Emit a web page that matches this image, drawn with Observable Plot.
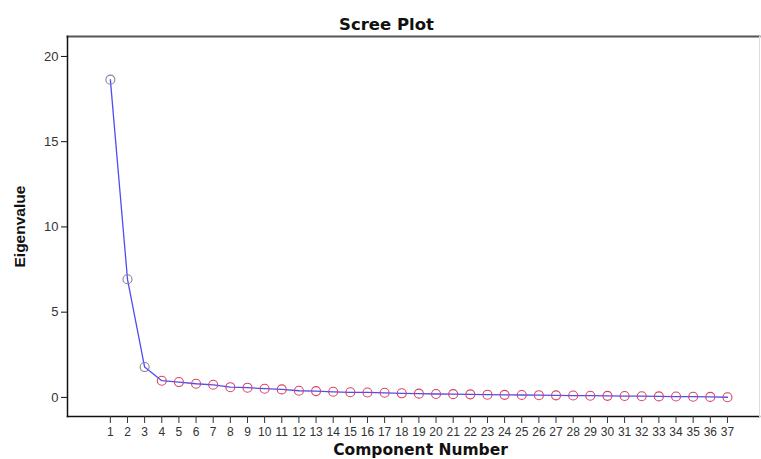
<!DOCTYPE html>
<html><head><meta charset="utf-8">
<script src="https://cdn.jsdelivr.net/npm/d3@7"></script>
<script src="https://cdn.jsdelivr.net/npm/@observablehq/plot@0.6"></script>
<style>body{margin:0;background:#fff;font-family:"Liberation Sans",Arial,sans-serif}</style>
</head><body><div id="chart"></div>
<script>
const components = [1,2,3,4,5,6,7,8,9,10,11,12,13,14,15,16,17,18,19,20,21,22,23,24,25,26,27,28,29,30,31,32,33,34,35,36,37];
const eigenvalues = [18.64,6.93,1.78,0.98,0.90,0.80,0.74,0.60,0.57,0.51,0.47,0.39,0.37,0.33,0.30,0.29,0.27,0.24,0.22,0.20,0.19,0.18,0.16,0.15,0.14,0.13,0.12,0.11,0.10,0.09,0.08,0.07,0.06,0.05,0.04,0.03,0.01];
const yTicks = [0,5,10,15,20];
const title = "Scree Plot";
const xLabel = "Component Number";
const yLabel = "Eigenvalue";

const data = components.map((c,i)=>({component:c, eigenvalue:eigenvalues[i]}));

const W = 761, H = 459;
const chart = Plot.plot({
  width: W, height: H,
  marginLeft: 67, marginRight: 2, marginTop: 36, marginBottom: 43,
  style: {fontFamily: '"Liberation Sans", Arial, sans-serif', background: "#fff"},
  x: {domain: [-1.5, 38.87], axis: null},
  y: {domain: [-1.12, 21.17], axis: null},
  marks: [
    Plot.frame({anchor: "top", stroke: "#555", strokeWidth: 2}),
    Plot.frame({anchor: "left", stroke: "#111", strokeWidth: 1.5}),
    Plot.frame({anchor: "bottom", stroke: "#111", strokeWidth: 1.5}),
    Plot.frame({anchor: "right", stroke: "#ddd", strokeWidth: 1}),
    Plot.axisY({ticks: yTicks, tickSize: 6, tickPadding: 3, fontSize: 13, color: "#333", label: null, stroke: "#111"}),
    Plot.axisX({ticks: components, tickSize: 7, tickPadding: 4, fontSize: 12, color: "#333", label: null, tickFormat: d => String(d)}),
    Plot.line(data, {x: "component", y: "eigenvalue", stroke: "#4d4df5", strokeWidth: 1.3}),
    Plot.dot(data, {x: "component", y: "eigenvalue", r: 4.5, fill: "none",
      stroke: d => d.component <= 3 ? "#8a7f9a" : "#d9435e", strokeWidth: 1.1}),
    Plot.text([title], {frameAnchor: "top", lineAnchor: "middle", dy: -12, dx: -27, fontFamily: '"DejaVu Sans", sans-serif', fontSize: 16.5, fontWeight: "bold", fill: "#111"}),
    Plot.text([xLabel], {frameAnchor: "bottom", lineAnchor: "middle", dy: 34, dx: 7, fontFamily: '"DejaVu Sans", sans-serif', fontSize: 15.5, fontWeight: "bold", fill: "#111"}),
    Plot.text([yLabel], {frameAnchor: "left", dx: -47, dy: 41, rotate: -90, fontSize: 15.5, fontWeight: "bold", fill: "#111"})
  ]
});
document.getElementById("chart").appendChild(chart);
</script>
</body></html>
